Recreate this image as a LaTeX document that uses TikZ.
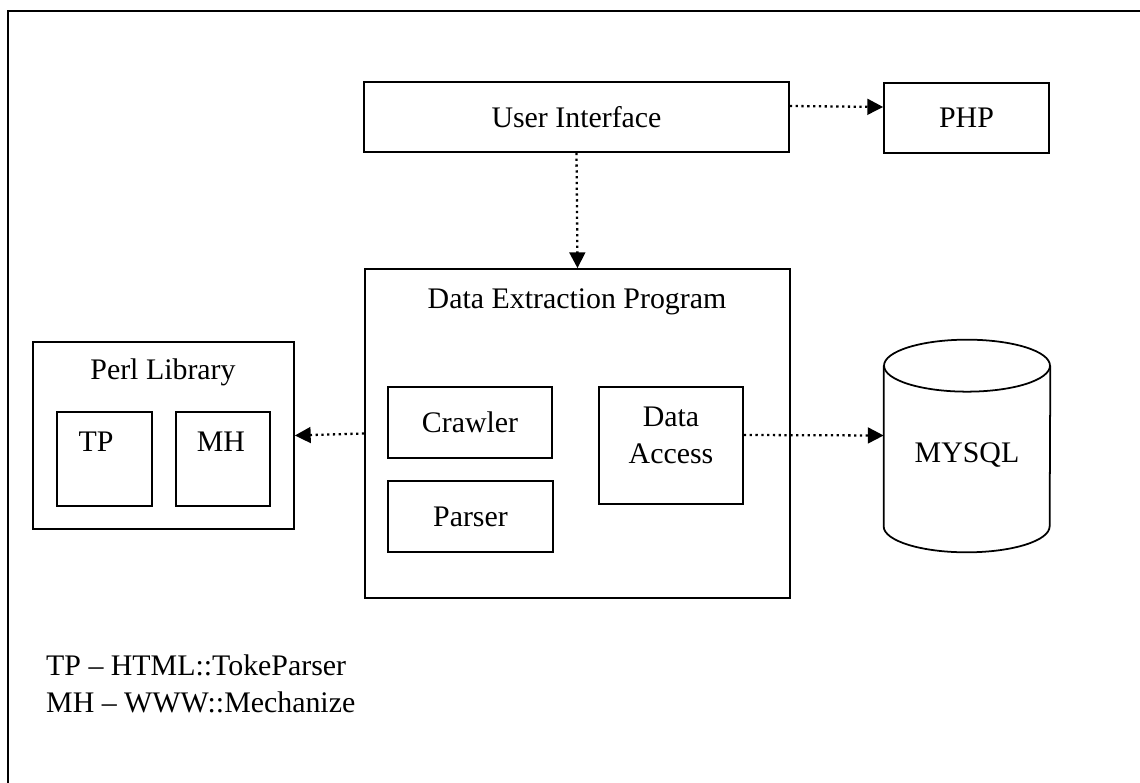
\documentclass[tikz,border=0pt]{standalone}
\usepackage{fontspec}
\setmainfont{Liberation Serif}
\usepackage{tikz}
\usetikzlibrary{arrows.meta}

\begin{document}
\begin{tikzpicture}[x=0.02cm, y=-0.02cm,
    every node/.style={font=\fontsize{17}{21}\selectfont},
    box/.style={draw, line width=1pt, inner sep=0pt},
    link/.style={dotted, line width=1.3pt, -{Triangle[length=9pt,width=9pt]}}]
  \useasboundingbox (0,0) rectangle (1140,783);
  \draw[line width=1.2pt] (1140,11) -- (8,11) -- (8,783);

  \node[box, minimum width=8.5cm, minimum height=1.4cm] (ui) at (576.5,117) {User Interface};
  \node[box, minimum width=3.3cm, minimum height=1.4cm] (php) at (966.5,118) {PHP};

  \node[box, minimum width=8.5cm, minimum height=6.58cm] (dep) at (577.5,433.5) {};
  \node (deplabel) at (577,302) {Data Extraction Program};
  \node[box, minimum width=3.28cm, minimum height=1.42cm] (crawler) at (470,422.5) {Crawler};
  \node[box, minimum width=3.3cm, minimum height=1.42cm] (parser) at (470.5,516.5) {Parser};
  \node[box, minimum width=2.88cm, minimum height=2.34cm] (da) at (671,445.5) {};
  \node[align=center] (dalabel) at (671,435) {Data\\Access};

  % database drum
  \node[inner sep=0pt, minimum width=3.32cm, minimum height=4.24cm] (mysql) at (967,446) {};
  \draw[line width=1pt] ([yshift=-0.52cm]mysql.north) ellipse [x radius=1.66cm, y radius=0.52cm];
  \draw[line width=1pt] ([yshift=-0.52cm]mysql.north west) -- ([yshift=0.52cm]mysql.south west)
    arc [start angle=180, end angle=360, x radius=1.66cm, y radius=0.52cm]
    -- ([yshift=-0.52cm]mysql.north east);
  \node (mysqllabel) at (967,455) {MYSQL};

  \node[box, minimum width=5.22cm, minimum height=3.74cm] (perl) at (163.5,435.5) {};
  \node (perllabel) at (163,372) {Perl Library};
  \node[box, minimum width=1.9cm, minimum height=1.88cm] (tp) at (104.5,459) {};
  \node (tplabel) at (96,442) {TP};
  \node[box, minimum width=1.88cm, minimum height=1.88cm] (mh) at (223,459) {};
  \node (mhlabel) at (221,442) {MH};

  \node[anchor=west, align=left] (legend) at (40,684)
    {TP -- HTML::TokeParser\\MH -- WWW::Mechanize};

  \path[link]
    ([yshift=0.22cm]ui.east) edge ([yshift=0.22cm]php.west)
    (ui.south) edge (dep.north)
    (dep.west) edge (perl.east)
    ([yshift=0.21cm]da.east) edge ([yshift=0.21cm]mysql.west);
\end{tikzpicture}
\end{document}
